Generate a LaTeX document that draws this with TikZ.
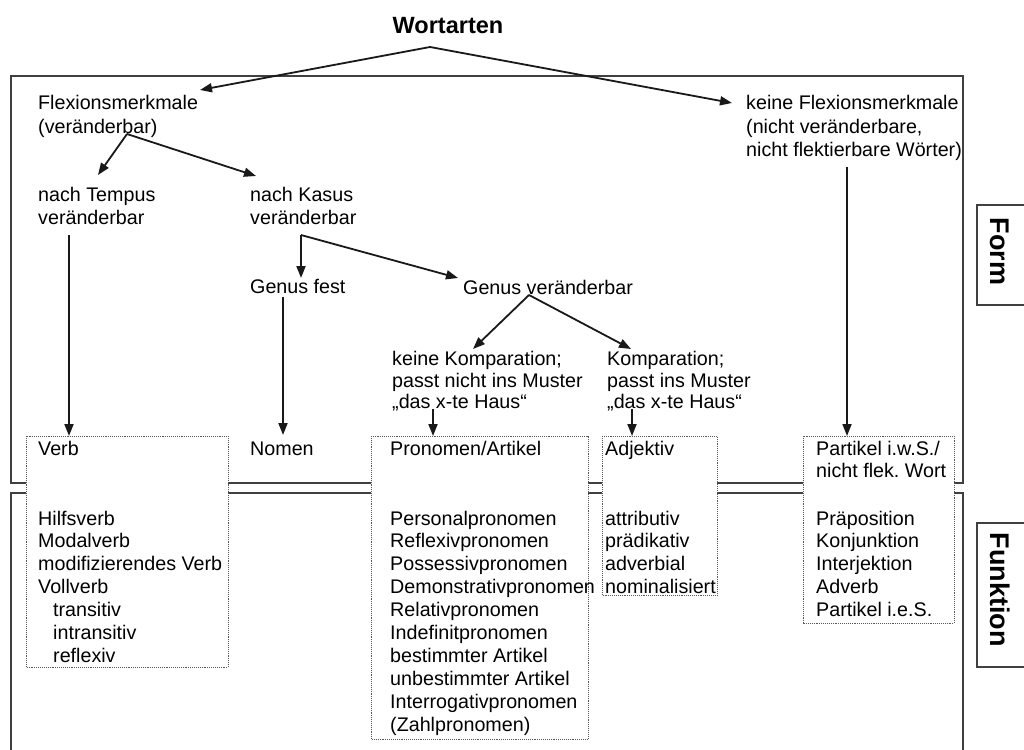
\documentclass[tikz,border=0pt]{standalone}
\usepackage{fontspec}
\setmainfont{Liberation Sans}
\usetikzlibrary{arrows.meta}
\begin{document}
\begin{tikzpicture}[x=1pt,y=-1pt,
  txt/.style={anchor=base west, inner sep=0pt, font=\fontsize{19.7}{23}\selectfont},
  conn/.style={line width=1.8pt, draw=black!90},
  arr/.style={conn, -{Triangle[length=12pt,width=9pt]}},
  frame/.style={line width=1.6pt, draw=black!75},
  dbox/.style={draw=black!65, densely dotted, line width=0.9pt, fill=white},
  lbl/.style={font=\bfseries\fontsize{27}{30}\selectfont, rotate=-90, inner sep=0pt},
  lblbox/.style={line width=1.3pt, draw=black!75}]
\useasboundingbox (0,0) rectangle (1024,749);
\clip (0,0) rectangle (1024,749);
\fill[white] (0,0) rectangle (1024,749);

% frames
\draw[frame] (11,76) rectangle (963,483);
\draw[frame] (11,760) -- (11,493) -- (963,493) -- (963,760);

% side labels
\draw[lblbox] (977,205) rectangle (1040,305);
\draw[lblbox] (977,523) rectangle (1040,667);
\node[lbl] (form) at (1000,251.5) {Form};
\node[lbl] (funktion) at (1000,589.5) {Funktion};

% dotted boxes
\draw[dbox] (26,436) rectangle (228,667);
\draw[dbox] (371,436) rectangle (588,739);
\draw[dbox] (602,436) rectangle (717,595);
\draw[dbox] (803,436) rectangle (954,623);

% title
\node[anchor=base, inner sep=0pt, font=\bfseries\fontsize{23.5}{26}\selectfont] (wort) at (448,33.5) {Wortarten};

% upper texts
\node[txt] (flex1) at (38,110) {Flexionsmerkmale};
\node[txt] (flex2) at (38,133) {(veränderbar)};
\node[txt] (kflex1) at (746,110) {keine Flexionsmerkmale};
\node[txt] (kflex2) at (746,133) {(nicht veränderbare,};
\node[txt] (kflex3) at (746,156) {nicht flektierbare Wörter)};
\node[txt] (temp1) at (38,201.5) {nach Tempus};
\node[txt] (temp2) at (38,224) {veränderbar};
\node[txt] (kas1) at (250,201.5) {nach Kasus};
\node[txt] (kas2) at (250,224) {veränderbar};
\node[txt] (gfest) at (250,293.5) {Genus fest};
\node[txt] (gver) at (463,294) {Genus veränderbar};
\node[txt] (kk1) at (392,365.5) {keine Komparation;};
\node[txt] (kk2) at (392,387) {passt nicht ins Muster};
\node[txt] (kk3) at (392,408.5) {„das x-te Haus“};
\node[txt] (ko1) at (607,365.5) {Komparation;};
\node[txt] (ko2) at (607,387) {passt ins Muster};
\node[txt] (ko3) at (607,408.5) {„das x-te Haus“};

% box headers
\node[txt] (verb) at (38,455) {Verb};
\node[txt] (nomen) at (250,455) {Nomen};
\node[txt] (pron) at (390,455) {Pronomen/Artikel};
\node[txt] (adj) at (605,455) {Adjektiv};
\node[txt] (part1) at (816,455) {Partikel i.w.S./};
\node[txt] (part2) at (816,477.5) {nicht flek.\ Wort};

% verb list
\node[txt] (v1) at (38,525) {Hilfsverb};
\node[txt] (v2) at (38,547.9) {Modalverb};
\node[txt] (v3) at (38,570.8) {modifizierendes Verb};
\node[txt] (v4) at (38,593.7) {Vollverb};
\node[txt] (v5) at (53,616.6) {transitiv};
\node[txt] (v6) at (53,639.5) {intransitiv};
\node[txt] (v7) at (53,662.4) {reflexiv};

% pronomen list
\node[txt] (p1) at (390,525) {Personalpronomen};
\node[txt] (p2) at (390,547.9) {Reflexivpronomen};
\node[txt] (p3) at (390,570.8) {Possessivpronomen};
\node[txt] (p4) at (390,593.7) {Demonstrativpronomen};
\node[txt] (p5) at (390,616.6) {Relativpronomen};
\node[txt] (p6) at (390,639.5) {Indefinitpronomen};
\node[txt] (p7) at (390,662.4) {bestimmter Artikel};
\node[txt] (p8) at (390,685.3) {unbestimmter Artikel};
\node[txt] (p9) at (390,708.2) {Interrogativpronomen};
\node[txt] (p10) at (390,731.1) {(Zahlpronomen)};

% adjektiv list
\node[txt] (a1) at (605,525) {attributiv};
\node[txt] (a2) at (605,547.9) {prädikativ};
\node[txt] (a3) at (605,570.8) {adverbial};
\node[txt] (a4) at (605,593.7) {nominalisiert};

% partikel list
\node[txt] (q1) at (816,525) {Präposition};
\node[txt] (q2) at (816,547.9) {Konjunktion};
\node[txt] (q3) at (816,570.8) {Interjektion};
\node[txt] (q4) at (816,593.7) {Adverb};
\node[txt] (q5) at (816,616.6) {Partikel i.e.S.};

% connector points
\coordinate (cw) at (430,47);
\coordinate (cflexT) at (200,90);
\coordinate (ckflexT) at (732,103);
\coordinate (cflex) at (127,134);
\coordinate (ctempT) at (98,175);
\coordinate (ckasT) at (256,176);
\coordinate (ctemp) at (69,235);
\coordinate (cverbT) at (69,436);
\coordinate (ckas) at (301,235);
\coordinate (cgfestT) at (301,278);
\coordinate (cgverT) at (458,278);
\coordinate (cgfest) at (283,297);
\coordinate (cnomenT) at (283,435);
\coordinate (cgver) at (529,295);
\coordinate (ckkT) at (473,349);
\coordinate (ckoT) at (631,349);
\coordinate (ckk) at (433,409);
\coordinate (cpronT) at (433,436);
\coordinate (cko) at (632,409);
\coordinate (cadjT) at (632,436);
\coordinate (ckflex) at (847,167);
\coordinate (cpartT) at (847,436);

\draw[arr] (cw) -- (cflexT);
\draw[arr] (cw) -- (ckflexT);
\draw[arr] (cflex) -- (ctempT);
\draw[arr] (cflex) -- (ckasT);
\draw[arr] (ctemp) -- (cverbT);
\draw[arr] (ckas) -- (cgfestT);
\draw[arr] (ckas) -- (cgverT);
\draw[arr] (cgfest) -- (cnomenT);
\draw[arr] (cgver) -- (ckkT);
\draw[arr] (cgver) -- (ckoT);
\draw[arr] (ckk) -- (cpronT);
\draw[arr] (cko) -- (cadjT);
\draw[arr] (ckflex) -- (cpartT);
\end{tikzpicture}
\end{document}
